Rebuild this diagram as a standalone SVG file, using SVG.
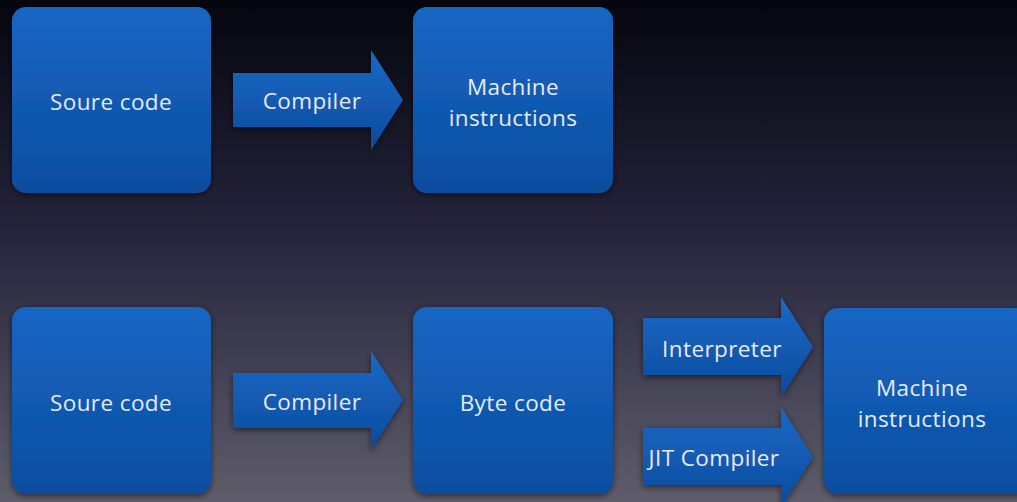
<svg xmlns="http://www.w3.org/2000/svg" width="1017" height="502" viewBox="0 0 1017 502">
  <defs>
    <linearGradient id="bg" x1="0" y1="0" x2="0" y2="1">
      <stop offset="0" stop-color="#05060f"/>
      <stop offset="0.45" stop-color="#24233a"/>
      <stop offset="1" stop-color="#5f5d6b"/>
    </linearGradient>
    <linearGradient id="boxFill" x1="0" y1="0" x2="0" y2="1">
      <stop offset="0" stop-color="#1766c4"/>
      <stop offset="1" stop-color="#0c4d9f"/>
    </linearGradient>
    <linearGradient id="arrowFill" x1="0" y1="0" x2="0" y2="1">
      <stop offset="0" stop-color="#1a69c6"/>
      <stop offset="1" stop-color="#0c4b9c"/>
    </linearGradient>
    <filter id="shadow" x="-10%" y="-10%" width="120%" height="120%">
      <feDropShadow dx="0" dy="2" stdDeviation="3" flood-color="#000" flood-opacity="0.55"/>
    </filter>
  </defs>
  <style>
    .box { fill: url(#boxFill); filter: url(#shadow); }
    .arrow { fill: url(#arrowFill); filter: url(#shadow); }
    .label { fill: #e6ecf5; font-family: "Open Sans", "Liberation Sans", sans-serif; font-size: 22.5px; letter-spacing: 0.4px; text-anchor: middle; dominant-baseline: central; }
  </style>

  <rect width="1017" height="502" fill="url(#bg)"/>

  <!-- Top row: direct compilation -->
  <g id="src1">
    <rect class="box" x="12" y="7" width="199" height="186" rx="14"/>
    <text class="label" x="111" y="101">Soure code</text>
  </g>
  <g id="mach1">
    <rect class="box" x="413" y="7" width="200" height="186" rx="14"/>
    <text class="label" x="513" y="86">Machine</text>
    <text class="label" x="513" y="117">instructions</text>
  </g>

  <!-- Bottom row: bytecode path -->
  <g id="src2">
    <rect class="box" x="12" y="307" width="199" height="187" rx="14"/>
    <text class="label" x="111" y="402">Soure code</text>
  </g>
  <g id="bytecode">
    <rect class="box" x="413" y="307" width="200" height="187" rx="14"/>
    <text class="label" x="513" y="402">Byte code</text>
  </g>
  <g id="mach2">
    <rect class="box" x="824" y="308" width="205" height="186" rx="14"/>
    <text class="label" x="922" y="387">Machine</text>
    <text class="label" x="922" y="418">instructions</text>
  </g>

  <g id="connectors">
    <g id="compiler1">
      <path class="arrow" d="M233,73 H371 V50 L403,100 L371,150 V127 H233 Z"/>
      <text class="label" x="312" y="100">Compiler</text>
    </g>
    <g id="compiler2">
      <path class="arrow" d="M233,373 H371 V351 L403,400 L371,450 V428 H233 Z"/>
      <text class="label" x="312" y="401">Compiler</text>
    </g>
    <g id="interpreter">
      <path class="arrow" d="M643,318 H781 V297 L813,347 L781,397 V375 H643 Z"/>
      <text class="label" x="722" y="348">Interpreter</text>
    </g>
    <g id="jit">
      <path class="arrow" d="M643,428 H781 V407 L813,457 L781,507 V485 H643 Z"/>
      <text class="label" x="714" y="457">JIT Compiler</text>
    </g>
  </g>
</svg>
